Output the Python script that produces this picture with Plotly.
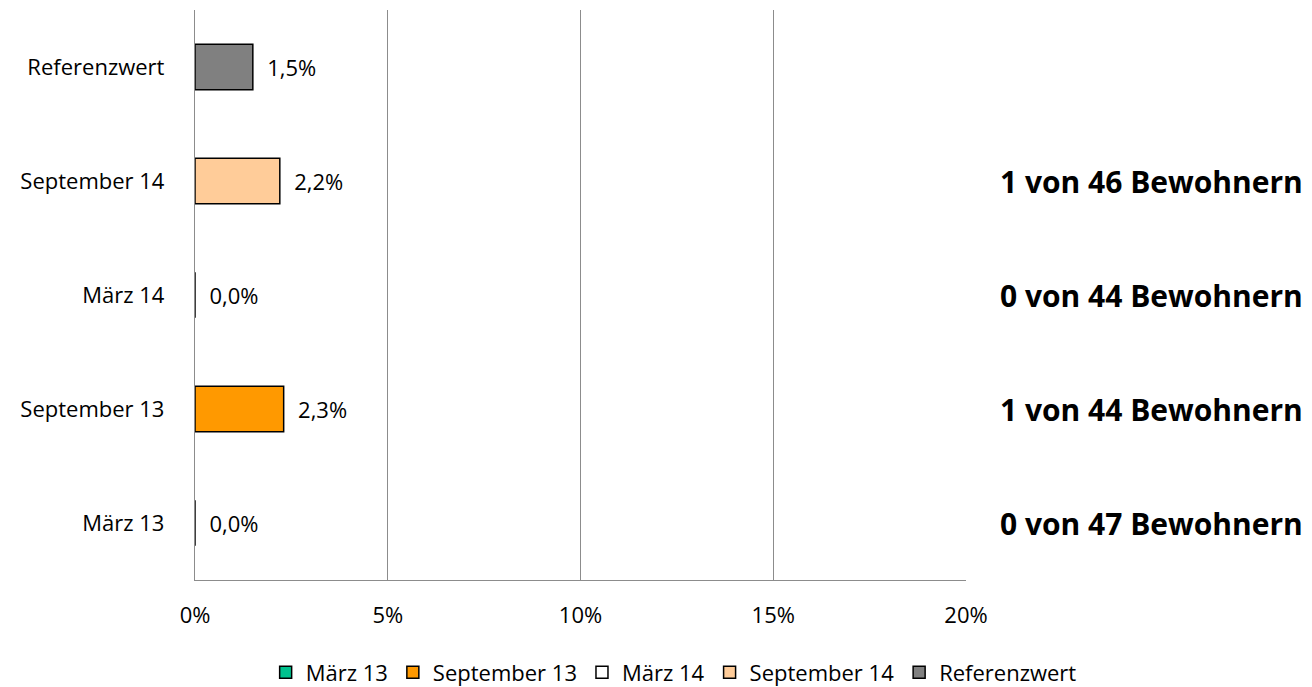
import plotly.graph_objects as go

categories = ["März 13", "September 13", "März 14", "September 14", "Referenzwert"]
values = [0.0, 2.3, 0.0, 2.2, 1.5]
colors = ["#00C28E", "#FF9900", "#FFFFFF", "#FFCC99", "#808080"]
counts = ["0 von 47 Bewohnern", "1 von 44 Bewohnern", "0 von 44 Bewohnern", "1 von 46 Bewohnern", ""]
x_ticks = [0, 5, 10, 15, 20]
x_tick_labels = ["0%", "5%", "10%", "15%", "20%"]

FONT = "Open Sans"

fig = go.Figure()
for cat, val, col in zip(categories, values, colors):
    fig.add_trace(go.Bar(
        y=[cat], x=[val], orientation="h", name=cat,
        marker=dict(color=col, line=dict(color="#000000", width=1.5)),
        width=0.4,
        text=["  " + f"{val:.1f}%".replace(".", ",")],
        textposition="outside", cliponaxis=False,
        textfont=dict(size=22, color="#000000", family=FONT),
        hoverinfo="skip",
    ))

for cat, txt in zip(categories, counts):
    if txt:
        fig.add_annotation(
            x=1.4397, xref="paper", y=cat, yref="y", text=f"<b>{txt}</b>",
            showarrow=False, xanchor="right", yanchor="middle",
            font=dict(size=30, color="#000000", family=FONT),
        )

fig.update_layout(
    width=1312, height=687,
    margin=dict(l=195, r=346, t=10, b=107, autoexpand=False),
    plot_bgcolor="#FFFFFF", paper_bgcolor="#FFFFFF",
    barmode="overlay",
    font=dict(family=FONT, size=22, color="#000000"),
    legend=dict(orientation="h", x=1.15, xanchor="right",
                y=-0.162, yanchor="middle",
                font=dict(size=22, family=FONT), traceorder="normal",
                itemwidth=30),
    showlegend=True,
)
fig.update_xaxes(range=[0, 20], tickvals=x_ticks, ticktext=x_tick_labels,
                 showgrid=True, gridcolor="#8C8C8C", gridwidth=1.3,
                 showline=True, linecolor="#8C8C8C", linewidth=1.3,
                 zeroline=False, ticks="", tickfont=dict(size=22), ticklabelstandoff=15,
                 layer="above traces")
fig.update_yaxes(categoryorder="array", categoryarray=categories,
                 showgrid=False, showline=True, linecolor="#8C8C8C", linewidth=1.3,
                 ticks="", tickfont=dict(size=22), ticklabelstandoff=25,
                 layer="above traces")

fig.write_html("out.html", post_script="document.body.style.margin='0';",
               config={"displayModeBar": False})
